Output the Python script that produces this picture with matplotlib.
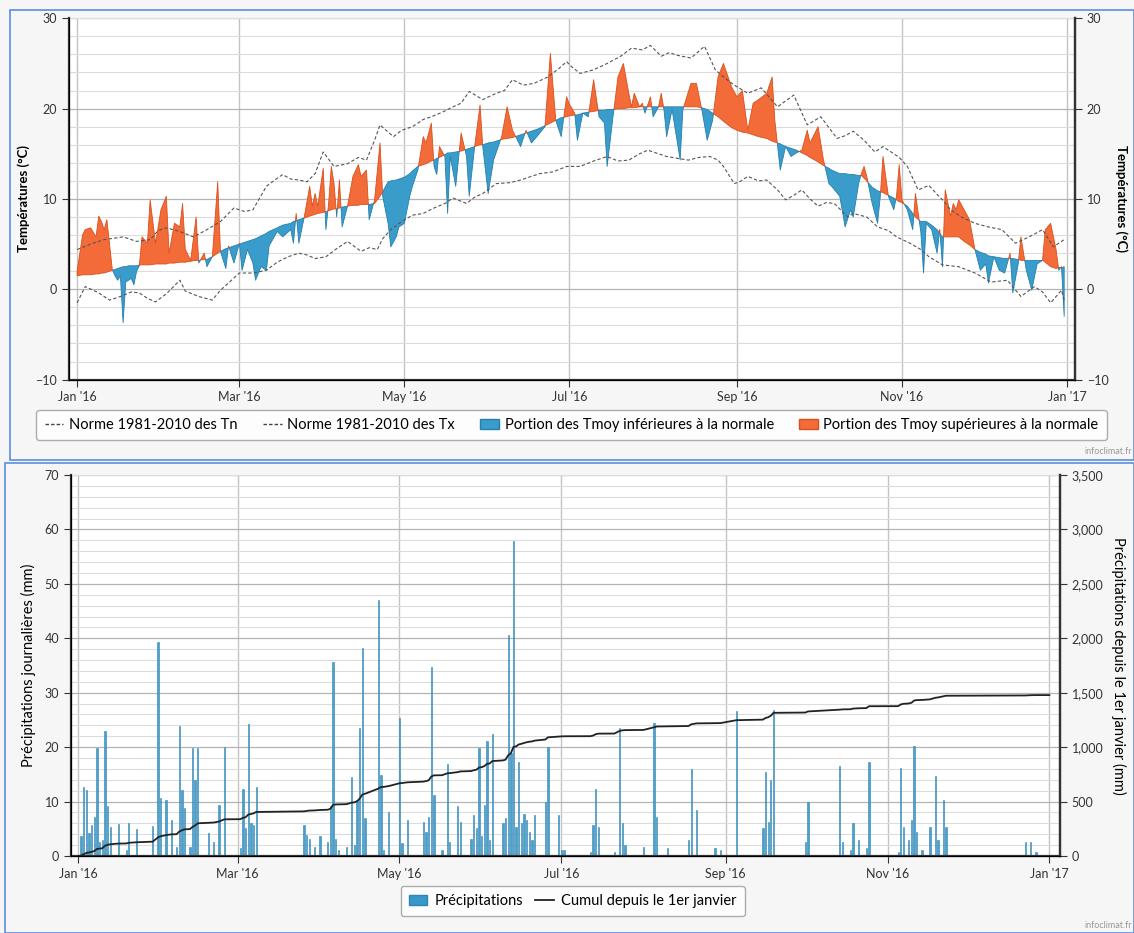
import numpy as np
import matplotlib.pyplot as plt
from matplotlib.patches import Rectangle, Patch
from matplotlib.lines import Line2D
from matplotlib.ticker import MultipleLocator, FuncFormatter

plt.rcParams['font.family'] = ['Lato', 'DejaVu Sans']

# jour 0 = 1er janvier 2016
mois_pos = [0, 60, 121, 182, 244, 305, 366]
mois_lab = ["Jan '16", "Mar '16", "May '16", "Jul '16", "Sep '16", "Nov '16", "Jan '17"]

# normales 1981-2010
jours_tx = [0, 5, 10, 17, 22, 27, 30, 33, 38, 43, 48, 53, 58, 62, 65, 70, 74, 76, 79, 82,
            85, 88, 91, 95, 100, 104, 107, 110, 112, 115, 117, 120, 124, 128, 131, 135, 139, 142, 145, 150,
            155, 158, 161, 165, 169, 174, 178, 181, 183, 186, 191, 196, 201, 205, 209, 212, 216, 219, 222, 227,
            232, 236, 239, 243, 248, 253, 259, 265, 270, 275, 281, 284, 287, 291, 295, 298, 301, 304, 307, 311,
            315, 318, 320, 323, 327, 332, 337, 342, 347, 352, 357, 361, 365]
tx_norme = [4.4, 5.0, 5.5, 5.8, 5.3, 5.5, 6.5, 6.8, 6.4, 5.8, 6.6, 7.5, 9.0, 8.6, 8.8, 11.4, 12.3, 12.7, 12.2, 12.1,
            11.9, 12.8, 15.2, 13.6, 13.9, 14.6, 14.3, 16.5, 18.2, 17.4, 16.9, 17.6, 18.0, 18.8, 19.1, 19.6, 20.2, 20.6, 21.9, 21.0,
            21.7, 22.0, 23.2, 22.6, 22.8, 23.5, 24.4, 25.2, 24.6, 23.9, 24.3, 25.0, 25.8, 26.7, 26.5, 27.0, 25.8, 26.2, 25.9, 25.6,
            26.9, 24.3, 23.5, 22.6, 21.7, 22.3, 20.2, 21.5, 18.2, 19.1, 16.7, 17.0, 17.5, 16.5, 15.2, 15.8, 15.2, 14.6, 13.6, 11.0,
            11.5, 10.5, 9.9, 8.8, 8.0, 7.3, 6.9, 6.6, 5.1, 5.8, 6.6, 4.7, 5.5]

jours_tn = [0, 3, 8, 12, 16, 20, 23, 26, 29, 33, 38, 40, 45, 50, 53, 56, 60, 65, 70, 74,
            78, 82, 85, 88, 92, 96, 100, 105, 108, 111, 113, 116, 120, 124, 128, 132, 136, 139, 144, 147,
            150, 155, 160, 164, 168, 171, 176, 181, 186, 191, 196, 200, 204, 208, 211, 215, 218, 222, 226, 230,
            234, 237, 239, 243, 245, 248, 252, 255, 259, 262, 265, 268, 271, 274, 277, 280, 285, 287, 292, 296,
            300, 303, 308, 312, 315, 320, 326, 332, 338, 344, 349, 354, 357, 360, 364, 365]
tn_norme = [-1.5, 0.3, -0.4, -1.2, -0.8, -0.3, -0.4, -1.0, -1.4, -0.5, 1.0, -0.2, -0.8, -1.2, -0.1, 0.7, 1.8, 1.8, 2.1, 3.0,
            3.6, 4.0, 3.8, 3.4, 3.6, 4.5, 5.3, 4.2, 4.6, 4.4, 5.6, 6.6, 7.5, 8.2, 8.4, 9.0, 9.5, 10.1, 9.5, 10.2,
            10.6, 11.7, 11.8, 12.1, 12.5, 12.8, 13.0, 13.6, 13.6, 14.2, 14.7, 14.2, 14.3, 15.0, 15.4, 15.0, 14.7, 14.5, 14.3, 14.6,
            14.7, 14.3, 13.6, 11.7, 11.9, 12.5, 12.0, 12.1, 11.0, 9.9, 10.4, 11.0, 10.0, 9.2, 9.6, 9.5, 8.0, 8.4, 8.0, 6.9,
            6.5, 5.8, 5.1, 4.4, 3.6, 2.7, 2.5, 1.8, 0.8, 1.0, -0.8, 0.3, -0.3, -1.5, -0.1, -1.2]

# temperature moyenne observee et normale de la Tmoy aux memes jours
jours_tmoy = [0, 2, 3, 5, 7, 8, 9, 10, 11, 12, 13, 14, 15, 16, 17, 18, 19, 20, 21, 22,
              23, 24, 26, 27, 29, 31, 33, 34, 36, 38, 39, 40, 42, 44, 45, 47, 48, 50, 52, 53,
              55, 56, 58, 60, 61, 63, 65, 66, 68, 70, 71, 74, 76, 79, 80, 81, 82, 84, 86, 87,
              88, 89, 91, 92, 93, 94, 95, 96, 97, 98, 100, 102, 104, 105, 107, 108, 110, 112, 113, 115,
              116, 118, 119, 121, 123, 124, 126, 128, 129, 131, 132, 133, 134, 136, 137, 138, 140, 142, 144, 145,
              147, 149, 150, 152, 154, 157, 159, 161, 164, 166, 168, 170, 173, 175, 177, 179, 181, 182, 184, 185,
              187, 189, 191, 193, 195, 196, 198, 200, 202, 204, 205, 206, 208, 209, 210, 212, 213, 215, 216, 217,
              218, 220, 223, 224, 227, 229, 231, 233, 235, 237, 239, 242, 244, 246, 248, 250, 252, 255, 257, 258,
              260, 262, 264, 266, 268, 270, 271, 274, 276, 278, 279, 282, 284, 286, 287, 289, 290, 291, 292, 294,
              296, 297, 298, 300, 302, 303, 304, 305, 307, 309, 310, 312, 313, 314, 316, 318, 319, 320, 321, 323,
              324, 325, 326, 328, 330, 332, 334, 336, 337, 339, 341, 343, 345, 346, 348, 349, 351, 353, 355, 357,
              358, 360, 362, 363, 364, 365]
tmoy = [2.0, 6.0, 6.6, 6.8, 5.8, 8.1, 7.5, 6.6, 7.7, 5.0, 2.2, 1.5, 1.0, 1.5, -3.7, 0.8, 1.0, 1.2, 0.5, 2.0,
        2.6, 5.8, 5.1, 9.9, 5.1, 8.8, 10.3, 4.0, 7.3, 6.9, 9.5, 4.4, 3.2, 8.0, 2.9, 4.0, 2.5, 3.6, 11.9, 4.2,
        2.3, 4.8, 2.9, 5.1, 2.1, 4.4, 2.9, 1.0, 2.5, 2.1, 4.8, 6.4, 5.8, 6.6, 5.1, 8.4, 5.1, 8.0, 11.4, 9.2,
        10.6, 9.2, 13.4, 6.6, 9.5, 13.6, 11.7, 8.0, 12.1, 6.9, 9.2, 12.5, 13.8, 12.5, 13.2, 7.7, 9.9, 16.2, 10.3, 7.3,
        4.7, 5.8, 6.9, 7.3, 10.3, 11.4, 13.2, 16.9, 16.2, 18.4, 13.6, 12.7, 15.8, 14.7, 8.4, 14.7, 11.4, 17.3, 14.7, 10.3,
        15.8, 20.4, 15.8, 10.6, 14.3, 16.9, 20.2, 17.6, 15.8, 17.6, 16.2, 16.9, 18.0, 26.1, 18.7, 16.9, 21.3, 20.5, 19.5, 16.5,
        19.5, 19.1, 23.2, 19.1, 18.4, 13.6, 18.7, 23.5, 25.0, 21.7, 20.2, 21.7, 20.2, 20.6, 19.5, 21.3, 19.1, 20.2, 21.7, 19.9,
        16.9, 19.9, 14.3, 19.9, 22.8, 22.8, 19.9, 16.5, 18.7, 23.5, 25.0, 22.4, 21.3, 22.0, 17.6, 20.6, 21.0, 21.7, 23.5, 18.7,
        13.2, 15.8, 14.7, 15.1, 15.4, 17.6, 16.2, 18.0, 14.3, 11.7, 11.4, 10.3, 6.9, 8.8, 8.0, 11.7, 12.8, 13.6, 12.5, 9.5,
        7.3, 10.3, 14.7, 10.3, 8.8, 10.3, 13.8, 9.9, 8.8, 6.6, 10.6, 6.3, 1.8, 7.3, 6.6, 4.0, 6.6, 2.5, 11.0, 8.1,
        9.5, 8.8, 9.9, 8.8, 7.7, 4.4, 2.1, 2.8, 0.7, 3.6, 2.1, 1.8, 4.0, -0.4, 2.8, 5.8, 2.1, -0.1, 2.8, 3.2,
        6.6, 7.3, 4.4, 2.1, 2.5, -3.0]
tmoy_norme = [1.5, 1.6, 1.6, 1.6, 1.7, 1.7, 1.8, 1.8, 1.9, 2.0, 2.1, 2.2, 2.3, 2.4, 2.5, 2.5, 2.6, 2.6, 2.6, 2.6,
              2.7, 2.7, 2.7, 2.7, 2.8, 2.8, 2.8, 2.9, 2.9, 3.0, 3.0, 3.0, 3.1, 3.2, 3.2, 3.3, 3.3, 3.6, 4.0, 4.2,
              4.5, 4.6, 4.8, 5.0, 5.1, 5.3, 5.5, 5.6, 5.9, 6.2, 6.4, 6.8, 7.1, 7.3, 7.5, 7.6, 7.7, 7.9, 8.1, 8.2,
              8.3, 8.4, 8.5, 8.6, 8.7, 8.8, 8.9, 8.9, 9.0, 9.1, 9.2, 9.3, 9.3, 9.4, 9.4, 9.4, 9.5, 10.3, 10.8, 11.9,
              12.0, 12.1, 12.2, 12.4, 12.8, 13.1, 13.6, 13.8, 13.9, 14.2, 14.3, 14.5, 14.6, 14.9, 15.1, 15.1, 15.2, 15.3, 15.5, 15.6,
              15.8, 16.0, 16.0, 16.2, 16.3, 16.6, 16.7, 16.8, 17.1, 17.3, 17.5, 17.7, 18.1, 18.4, 18.7, 19.0, 19.1, 19.2, 19.3, 19.3,
              19.5, 19.6, 19.7, 19.8, 19.8, 19.9, 19.9, 20.0, 20.0, 20.1, 20.1, 20.1, 20.2, 20.2, 20.2, 20.2, 20.2, 20.2, 20.2, 20.2,
              20.2, 20.2, 20.2, 20.2, 20.2, 20.2, 20.1, 19.9, 19.5, 19.1, 18.6, 17.9, 17.6, 17.4, 17.3, 17.1, 16.9, 16.7, 16.4, 16.3,
              16.1, 15.8, 15.6, 15.4, 15.1, 14.8, 14.6, 14.1, 13.7, 13.4, 13.2, 12.8, 12.8, 12.7, 12.7, 12.6, 12.6, 12.3, 12.0, 11.3,
              10.9, 10.8, 10.7, 10.4, 10.1, 9.9, 9.7, 9.6, 9.2, 8.4, 8.0, 7.5, 7.5, 7.5, 7.1, 6.6, 6.2, 5.8, 5.8, 5.8,
              5.8, 5.8, 5.8, 5.3, 4.9, 4.4, 4.1, 3.9, 3.7, 3.6, 3.5, 3.4, 3.4, 3.4, 3.3, 3.2, 3.2, 3.2, 3.2, 3.2,
              3.0, 2.5, 2.3, 2.4, 2.4, 2.5]

# precipitations journalieres (mm), jours de pluie seulement
jours_pluie = [1, 2, 3, 4, 5, 6, 7, 8, 9, 10, 11, 12, 15, 18, 19, 22, 28, 30, 31, 33,
               35, 37, 38, 39, 40, 42, 43, 44, 45, 49, 51, 53, 55, 61, 62, 63, 64, 65, 66, 67,
               85, 86, 87, 89, 91, 94, 95, 96, 97, 98, 101, 103, 104, 105, 106, 107, 108, 113, 114, 115,
               117, 121, 122, 124, 130, 131, 132, 133, 134, 137, 139, 140, 143, 144, 148, 149, 150, 151, 152, 153,
               154, 155, 156, 160, 161, 162, 163, 164, 165, 166, 167, 168, 169, 170, 171, 172, 176, 177, 181, 182,
               183, 193, 194, 195, 196, 202, 204, 205, 206, 213, 217, 218, 222, 230, 231, 233, 240, 242, 248, 258,
               259, 260, 261, 262, 274, 275, 287, 288, 291, 292, 294, 297, 298, 309, 310, 311, 313, 314, 315, 316,
               318, 321, 323, 324, 326, 327, 357, 359, 361]
pluie = [3.6, 12.7, 12.1, 4.2, 5.7, 7.2, 19.8, 2.5, 3.0, 22.9, 9.1, 5.4, 5.9, 1.1, 6.1, 4.9, 5.5, 39.4, 10.6, 10.3,
         6.6, 1.7, 23.9, 12.1, 8.8, 1.7, 19.9, 14.0, 19.8, 4.2, 2.6, 9.4, 20.1, 1.4, 12.4, 5.1, 24.3, 6.0, 5.7, 12.7,
         5.7, 3.9, 3.2, 1.7, 3.6, 2.6, 9.1, 35.7, 3.2, 1.1, 1.7, 14.6, 2.0, 10.3, 23.5, 38.2, 6.9, 47.1, 14.9, 1.1,
         8.1, 25.4, 2.3, 6.6, 6.3, 4.5, 7.2, 34.8, 11.2, 1.1, 16.9, 2.6, 9.1, 6.3, 3.2, 7.5, 5.1, 19.8, 3.6, 9.4,
         21.1, 2.9, 22.5, 6.0, 6.9, 40.6, 18.9, 57.8, 5.4, 17.2, 6.0, 7.8, 6.6, 4.5, 2.9, 7.5, 10.0, 20.1, 7.5, 1.1,
         1.1, 0.8, 5.7, 12.3, 5.4, 0.8, 23.5, 6.0, 2.0, 1.7, 24.4, 7.2, 1.4, 2.9, 15.9, 8.5, 1.4, 1.1, 26.7, 5.1,
         15.5, 6.3, 14.0, 26.8, 2.6, 10.0, 16.5, 2.6, 1.1, 6.1, 2.9, 1.4, 17.3, 0.8, 16.1, 5.4, 2.9, 6.7, 20.2, 4.5,
         1.1, 5.4, 14.7, 2.9, 10.3, 5.4, 2.6, 2.6, 0.8]

bleu = '#3a9ccb'
orange = '#f26b38'
grille_maj = '#b4b4b4'
grille_min = '#dcdcdc'

fig = plt.figure(figsize=(11.34, 9.33), dpi=100, facecolor='#f6f6f6')

# cadres bleus des deux graphiques
fig.patches.append(Rectangle((10 / 1134, 1 - 460 / 933), 1 - 10 / 1134, 450 / 933, transform=fig.transFigure,
                             fill=False, edgecolor='#5b8ede', lw=1.2))
fig.patches.append(Rectangle((5 / 1134, 0.0), 1 - 5 / 1134, 1 - 463 / 933, transform=fig.transFigure,
                             fill=False, edgecolor='#5b8ede', lw=1.2))


def style_axes(ax):
    ax.set_facecolor('white')
    ax.set_xticks(mois_pos)
    ax.set_xticklabels(mois_lab)
    ax.grid(axis='x', color='#c4c4c4', lw=1.0)
    ax.grid(axis='y', which='major', color=grille_maj, lw=0.9)
    ax.grid(axis='y', which='minor', color=grille_min, lw=0.8)
    ax.set_axisbelow(True)
    ax.tick_params(axis='both', labelsize=9, colors='#333333', direction='out', length=5)
    ax.tick_params(axis='y', which='minor', length=0)
    for s in ['left', 'bottom', 'right']:
        ax.spines[s].set_color('#333333')
        ax.spines[s].set_linewidth(1.6)
    ax.spines['top'].set_color('#dddddd')


# ---------- temperatures ----------
ax1 = fig.add_axes([69 / 1134, 1 - 379.6 / 933, 1006 / 1134, 361.3 / 933])
style_axes(ax1)
ax1.set_xlim(-3, 369)
ax1.set_ylim(-10, 30)
ax1.yaxis.set_major_locator(MultipleLocator(10))
ax1.yaxis.set_minor_locator(MultipleLocator(2))

ax1.fill_between(jours_tmoy, tmoy, tmoy_norme, where=np.array(tmoy) < np.array(tmoy_norme),
                 interpolate=True, facecolor=bleu, edgecolor='#2580ad', lw=0.6)
ax1.fill_between(jours_tmoy, tmoy, tmoy_norme, where=np.array(tmoy) >= np.array(tmoy_norme),
                 interpolate=True, facecolor=orange, edgecolor='#d9501c', lw=0.6)
ax1.plot(jours_tn, tn_norme, color='#555555', lw=0.8, ls=(0, (3, 2)))
ax1.plot(jours_tx, tx_norme, color='#555555', lw=0.8, ls=(0, (3, 2)))
ax1.set_ylabel('Températures (°C)', fontsize=9.5, fontweight='bold', labelpad=4)

ax1r = ax1.twinx()
ax1r.set_ylim(-10, 30)
ax1r.yaxis.set_major_locator(MultipleLocator(10))
ax1r.tick_params(axis='y', labelsize=9, colors='#333333', length=5)
ax1r.spines['right'].set_color('#333333')
ax1r.spines['right'].set_linewidth(1.6)
ax1r.spines['top'].set_visible(False)
ax1r.set_ylabel('Températures (°C)', fontsize=9.5, fontweight='bold', rotation=270, labelpad=14)

poignees1 = [Line2D([], [], color='#444444', lw=1, ls=(0, (2.5, 1.5))),
             Line2D([], [], color='#444444', lw=1, ls=(0, (2.5, 1.5))),
             Patch(facecolor=bleu, edgecolor='#2580ad'),
             Patch(facecolor=orange, edgecolor='#d9501c')]
fig.legend(poignees1, ['Norme 1981-2010 des Tn', 'Norme 1981-2010 des Tx',
                       'Portion des Tmoy inférieures à la normale', 'Portion des Tmoy supérieures à la normale'],
           loc='center', bbox_to_anchor=(0.504, 1 - 425 / 933), ncol=4, fontsize=10.5, frameon=True,
           fancybox=True, edgecolor='#999999', handlelength=1.3, handletextpad=0.4, columnspacing=1.7,
           borderpad=0.55)
fig.text(1132 / 1134, 1 - 451 / 933, 'infoclimat.fr', ha='right', va='center', fontsize=6.5, color='#999999')

# ---------- precipitations ----------
ax2 = fig.add_axes([71 / 1134, 1 - 856 / 933, 989 / 1134, 381 / 933])
style_axes(ax2)
ax2.set_xlim(-2.8, 370)
ax2.set_ylim(0, 70)
ax2.yaxis.set_major_locator(MultipleLocator(10))
ax2.yaxis.set_minor_locator(MultipleLocator(2))
ax2.bar(jours_pluie, pluie, width=0.5, color='#4a9fcc', edgecolor='#2f86b5', lw=0.4)
ax2.set_ylabel('Précipitations journalières (mm)', fontsize=10.5, labelpad=6)

ax2r = ax2.twinx()
ax2r.set_ylim(0, 3500)
ax2r.yaxis.set_major_locator(MultipleLocator(500))
ax2r.yaxis.set_major_formatter(FuncFormatter(lambda v, p: f'{int(v):,}'))
cumul = np.cumsum(pluie)
ax2r.plot([0] + jours_pluie + [366], [0] + list(cumul) + [cumul[-1]], color='#222222', lw=1.3)
ax2r.tick_params(axis='y', labelsize=9, colors='#333333', length=5)
ax2r.spines['right'].set_color('#333333')
ax2r.spines['right'].set_linewidth(1.6)
ax2r.spines['top'].set_visible(False)
ax2r.set_ylabel('Précipitations depuis le 1er janvier (mm)', fontsize=10.5, rotation=270, labelpad=16)

poignees2 = [Patch(facecolor='#3a97c9', edgecolor='#2f86b5'), Line2D([], [], color='#222222', lw=1.3)]
fig.legend(poignees2, ['Précipitations', 'Cumul depuis le 1er janvier'], loc='center',
           bbox_to_anchor=(0.505, 1 - 901 / 933), ncol=2, fontsize=10.5, frameon=True, fancybox=True,
           edgecolor='#999999', handlelength=1.3, handletextpad=0.5, columnspacing=0.8, borderpad=0.55)
fig.text(1132 / 1134, 1 - 925 / 933, 'infoclimat.fr', ha='right', va='center', fontsize=6.5, color='#999999')

fig.savefig('out.png', dpi=100, facecolor=fig.get_facecolor())
